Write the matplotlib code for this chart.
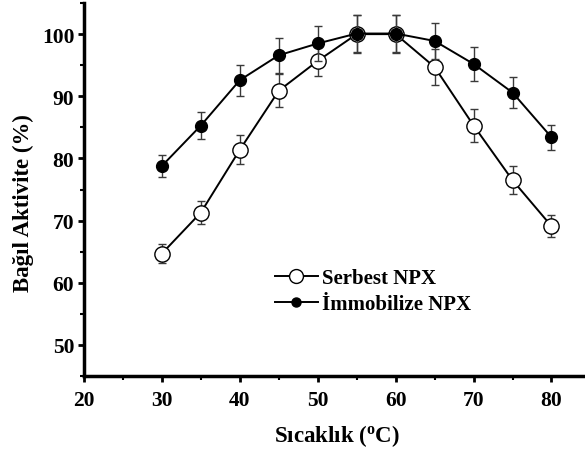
import matplotlib
matplotlib.use("Agg")
import matplotlib.pyplot as plt
from matplotlib.ticker import MultipleLocator
from matplotlib.lines import Line2D

plt.rcParams['font.family'] = ['Liberation Serif', 'DejaVu Serif']
plt.rcParams['font.weight'] = 'bold'
plt.rcParams['mathtext.fontset'] = 'custom'
plt.rcParams['mathtext.rm'] = 'Liberation Serif:bold'
plt.rcParams['mathtext.it'] = 'Liberation Serif:bold'
plt.rcParams['mathtext.bf'] = 'Liberation Serif:bold'

temps = [30, 35, 40, 45, 50, 55, 60, 65, 70, 75, 80]
free_vals = [64.7, 71.3, 81.4, 90.9, 95.7, 100.0, 100.0, 94.7, 85.3, 76.5, 69.1]
free_err = [1.5, 1.9, 2.3, 2.7, 2.4, 3.0, 3.0, 2.9, 2.7, 2.3, 1.8]
imm_vals = [78.8, 85.3, 92.6, 96.6, 98.5, 100.1, 100.1, 98.9, 95.2, 90.6, 83.4]
imm_err = [1.8, 2.1, 2.5, 2.8, 2.8, 3.0, 3.0, 2.9, 2.8, 2.5, 2.0]
labels = ['Serbest NPX', 'İmmobilize NPX']

fig = plt.figure(figsize=(5.85, 4.52), dpi=100)
ax = fig.add_axes([0.1436, 0.166, 0.8564, 0.825])

ax.errorbar(temps, free_vals, yerr=free_err, color='black', lw=1.4,
            marker='o', ms=11, mfc='white', mec='black', mew=1.0,
            ecolor='#3a3a3a', elinewidth=1.0, capsize=3, capthick=1.0,
            zorder=2)
ax.errorbar(temps, imm_vals, yerr=imm_err, color='black', lw=1.4,
            marker='o', ms=8.5, mfc='black', mec='black', mew=1.0,
            ecolor='#3a3a3a', elinewidth=1.0, capsize=3, capthick=1.0,
            zorder=3)

ax.set_xlim(20, 84.3)
ax.set_ylim(45, 105)
ax.xaxis.set_major_locator(MultipleLocator(10))
ax.xaxis.set_minor_locator(MultipleLocator(5))
ax.set_yticks([50, 60, 70, 80, 90, 100])
ax.yaxis.set_minor_locator(MultipleLocator(5))

for s in ['top', 'right']:
    ax.spines[s].set_visible(False)
for s in ['left', 'bottom']:
    ax.spines[s].set_linewidth(2.5)

ax.tick_params(which='major', direction='out', length=4, width=2, labelsize=15.5)
ax.tick_params(axis='x', which='major', pad=6)
ax.tick_params(axis='y', which='major', pad=3)
ax.tick_params(which='minor', direction='out', length=3, width=1.5)
for lab in ax.get_xticklabels() + ax.get_yticklabels():
    lab.set_fontweight('bold')

ax.set_xlabel(r'Sıcaklık ($^{\mathrm{o}}$C)', fontsize=16.5, fontweight='bold')
ax.set_ylabel('Bağıl Aktivite (%)', fontsize=16.5, fontweight='bold')
ax.xaxis.set_label_coords(0.504, -0.123)
ax.yaxis.set_label_coords(-0.100, 0.466)

handles = [
    Line2D([], [], color='black', lw=1.4, marker='o', ms=10, mfc='white', mec='black', mew=1.0),
    Line2D([], [], color='black', lw=1.4, marker='o', ms=6.5, mfc='black', mec='black', mew=1.0),
]
leg = ax.legend(handles, labels, loc='center left', bbox_to_anchor=(0.381, 0.227),
                frameon=False, fontsize=15, handlelength=2.05, handletextpad=0.2,
                labelspacing=0.3, borderaxespad=0, borderpad=0)
for t in leg.get_texts():
    t.set_fontweight('bold')

fig.savefig('out.png', dpi=100)
